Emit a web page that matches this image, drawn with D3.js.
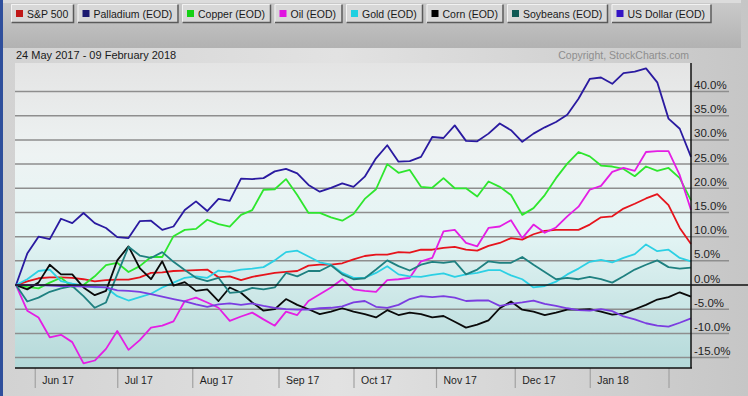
<!DOCTYPE html>
<html>
<head>
<meta charset="utf-8">
<script src="https://cdn.jsdelivr.net/npm/d3@7"></script>
<style>
  html, body { margin: 0; padding: 0; background: #d4d4d4; }
  svg { display: block; font-family: "Liberation Sans", Arial, sans-serif; }
</style>
</head>
<body>
<div id="chart"></div>
<script>
// trading sessions since 24 May 2017 (every 3rd session)
var days = [0,3,6,9,12,15,18,21,24,27,30,33,36,39,42,45,48,51,54,57,60,
            63,66,69,72,75,78,81,84,87,90,93,96,99,102,105,108,111,114,117,120,
            123,126,129,132,135,138,141,144,147,150,153,156,159,162,165,168,171,174,177,180];

// percent change from 24 May 2017
var spx = [0,0.75,1.4,1.6,1.6,1.5,1.2,0.75,1.0,1.1,1.1,1.6,2.5,2.6,2.9,3.0,3.1,3.2,1.6,1.8,1.0,
           1.7,2.1,2.5,2.7,2.9,4.0,4.2,4.2,4.5,5.3,6.0,6.3,6.3,6.8,6.7,7.3,7.3,7.7,7.9,7.3,
           7.1,8.1,8.7,9.7,9.4,10.5,11.2,11.4,11.4,11.4,12.5,14.0,14.2,15.8,16.8,17.9,18.8,16.5,11.8,8.5];
var palladium = [0,6.5,10.0,9.5,13.7,12.8,14.9,12.8,11.8,9.9,9.7,13.2,13.3,11.4,12.1,15.5,17.3,15.3,17.8,17.4,22.0,
                 21.9,22.1,23.5,24.0,23.1,20.7,19.3,20.1,21.0,20.3,22.4,26.2,28.9,25.5,25.6,26.5,30.6,30.4,33.0,29.8,
                 29.7,31.3,33.4,32.0,29.6,31.3,32.6,33.7,35.2,38.5,42.6,42.9,41.6,43.8,44.1,44.8,41.9,34.4,32.3,26.5];
var copper = [0,-0.4,-0.7,0.5,1.5,-0.4,0,1.8,4.1,4.6,2.7,3.9,5.8,5.8,10.1,11.4,11.6,13.5,12.6,12.1,14.5,
              15.5,19.7,19.8,21.9,18.6,14.9,14.9,14.0,13.3,14.7,17.8,19.8,25.0,23.2,23.8,20.3,20.1,22.1,20.0,20.0,
              18.3,21.4,20.3,18.6,14.5,15.9,18.6,22.1,25.1,27.5,26.6,24.7,24.5,24.0,22.5,24.5,23.6,24.2,22.1,17.5];
var oil = [0,-5.3,-6.7,-10.8,-10.3,-11.8,-16.2,-15.6,-13.2,-9.5,-13.4,-11.4,-8.8,-8.4,-7.5,-3.3,-2.6,-3.6,-4.7,-7.4,-6.5,
           -5.7,-7.1,-8.4,-5.5,-6.2,-3.3,-1.9,-0.5,1.2,-0.9,-1.2,-1.4,1.0,1.2,1.5,4.9,5.6,11.1,11.4,8.7,
           8.0,11.8,12.1,13.4,9.7,12.5,10.8,11.9,14.2,16.2,19.7,20.5,23.4,24.2,23.6,27.5,27.7,27.7,22.7,15.5];
var gold = [0,1.2,2.9,3.2,0.8,0.3,-0.1,-0.5,-0.5,-2.3,-3.2,-2.5,-1.8,-0.5,0.5,1.5,1.8,1.5,3.0,2.7,3.2,
            3.4,3.7,5.1,6.8,7.1,5.9,4.7,4.2,2.5,1.5,1.5,2.5,3.9,2.2,1.8,1.7,2.1,2.4,1.7,2.2,
            2.5,3.1,3.1,2.0,1.2,-0.5,-0.2,0.7,2.2,3.4,4.8,5.2,4.7,5.6,6.4,8.4,7.0,7.3,5.6,4.9];
var corn = [0,-0.9,0.5,4.2,2.2,2.2,-0.5,-2.1,-1.2,5.1,8.0,3.5,1.2,4.9,-0.1,0.6,-1.2,-0.9,-3.3,-0.5,-1.6,
            -3.6,-5.3,-5.0,-2.9,-4.1,-5.0,-6.0,-5.5,-4.8,-5.5,-6.0,-6.7,-5.2,-6.2,-5.7,-6.0,-6.7,-6.4,-7.6,-8.8,
            -8.2,-7.3,-4.8,-3.4,-5.1,-5.5,-6.2,-5.7,-5.1,-5.1,-5.0,-5.5,-6.1,-5.9,-5.0,-4.1,-3.0,-2.5,-1.5,-2.4];
var soybeans = [0,-3.4,-2.6,-1.4,-0.7,-0.2,-2.3,-4.7,-3.6,2.2,7.9,6.1,5.6,6.8,4.8,3.1,1.5,0.8,1.5,-1.6,-1.4,
                -0.6,-0.9,-0.5,2.5,1.8,2.9,2.9,4.1,2.2,1.2,1.4,3.2,5.1,3.9,3.0,4.2,4.8,4.6,4.9,2.2,
                3.2,4.9,4.6,4.6,5.8,4.2,2.7,1.2,1.5,1.2,1.7,1.2,0.5,1.8,3.2,4.2,5.1,3.7,3.4,3.6];
var usd = [0,0,0,-0.1,-0.2,-0.2,-0.3,-0.4,-0.5,-1.1,-1.2,-1.4,-1.9,-2.4,-2.9,-3.4,-4.0,-4.5,-4.0,-3.8,-4.1,
           -3.8,-4.3,-4.7,-5.0,-5.1,-5.1,-4.8,-4.7,-4.4,-3.6,-3.3,-4.5,-4.7,-4.1,-2.9,-2.3,-2.5,-2.3,-2.6,-3.3,
           -3.2,-3.2,-4.3,-3.9,-3.6,-3.2,-3.9,-4.3,-4.8,-5.2,-5.3,-5.0,-5.4,-6.5,-7.1,-7.9,-8.4,-8.6,-7.8,-6.9];

var names = ["S&P 500","Palladium (EOD)","Copper (EOD)","Oil (EOD)","Gold (EOD)","Corn (EOD)","Soybeans (EOD)","US Dollar (EOD)"];
var values = [spx, palladium, copper, oil, gold, corn, soybeans, usd];

var monthTicks = [5,27,47,70,90,112,133,153,174];
var monthLabels = ["Jun 17","Jul 17","Aug 17","Sep 17","Oct 17","Nov 17","Dec 17","Jan 18",""];
var pctTicks = [-15,-10,-5,0,5,10,15,20,25,30,35,40];

var lineColors = ["#e6141c","#2a1aa0","#2ee62e","#e41ee4","#2cd0e4","#0a0a0a","#1f8080","#7b3de0"];
var boxColors  = ["#c01818","#1c1a70","#14d014","#e014e0","#20d0e0","#000000","#105a55","#3414c4"];

function init(){
    var w = 748, h = 396;
    var left = 16, right = 691, top = 63, bottom = 368;

    var svg = d3.select("#chart").append("svg")
                .attr("width", w)
                .attr("height", h);

    var defs = svg.append("defs");
    var bg = defs.append("linearGradient").attr("id","bg").attr("x1",0).attr("x2",1).attr("y1",0).attr("y2",0);
    bg.append("stop").attr("offset","0").attr("stop-color","#d2d2d2");
    bg.append("stop").attr("offset","0.45").attr("stop-color","#e2e2e2");
    bg.append("stop").attr("offset","1").attr("stop-color","#c6c6c6");

    var head = defs.append("linearGradient").attr("id","head").attr("x1",0).attr("x2",0).attr("y1",0).attr("y2",1);
    head.append("stop").attr("offset","0").attr("stop-color","#cbcbcb");
    head.append("stop").attr("offset","1").attr("stop-color","#b2b2b2");

    var plotBg = defs.append("linearGradient").attr("id","plotbg").attr("x1",0).attr("x2",0).attr("y1",0).attr("y2",1);
    plotBg.append("stop").attr("offset","0").attr("stop-color","#e4e4e4");
    plotBg.append("stop").attr("offset","0.3").attr("stop-color","#eef3f3");
    plotBg.append("stop").attr("offset","0.55").attr("stop-color","#e4f5f5");
    plotBg.append("stop").attr("offset","1").attr("stop-color","#b4d9d9");

    // backgrounds
    svg.append("rect").attr("width", w).attr("height", h).attr("fill","url(#bg)");
    svg.append("rect").attr("x",0).attr("y",0).attr("width",741).attr("height",48).attr("fill","url(#head)");
    svg.append("rect").attr("x",0).attr("y",0).attr("width",741).attr("height",3).attr("fill","#dcdcdc");
    svg.append("rect").attr("x",left - 1).attr("y",top).attr("width",right - left + 1).attr("height",bottom - top)
       .attr("fill","url(#plotbg)");
    svg.append("rect").attr("x",0).attr("y",0).attr("width",3).attr("height",h).attr("fill","#2f4f9c");

    // scales
    var x = d3.scaleLinear().domain([0, 180]).range([left, right]);
    var y = d3.scaleLinear().domain([-17.15, 45.9]).range([bottom, top]);

    // gridlines, running under the labels
    svg.append("g").selectAll("line")
       .data(pctTicks.filter(function(d){ return d !== 0; }))
       .enter().append("line")
       .attr("x1", left - 1).attr("x2", 729)
       .attr("y1", function(d){ return y(d); })
       .attr("y2", function(d){ return y(d); })
       .attr("stroke","#8e8e8e").attr("stroke-width",1.5);

    // y axis labels
    var yAxis = d3.axisRight(y)
                  .tickValues(pctTicks)
                  .tickFormat(function(d){ return d.toFixed(1) + "%"; })
                  .tickSize(0);
    var yg = svg.append("g").attr("transform","translate(" + right + ",0)").call(yAxis);
    yg.select(".domain").remove();
    yg.selectAll("text")
      .attr("x", 3).attr("y", -3).attr("dy", null)
      .attr("fill","#1e1e1e")
      .style("font-size","11.5px");

    // x axis
    var xAxis = d3.axisBottom(x)
                  .tickValues(monthTicks)
                  .tickFormat(function(d, i){ return monthLabels[i]; })
                  .tickSizeInner(20).tickSizeOuter(0);
    var xg = svg.append("g").attr("transform","translate(0," + bottom + ")").call(xAxis);
    xg.select(".domain").remove();
    xg.selectAll("line").attr("stroke","#a2a2a2").attr("stroke-width",1.2);
    xg.selectAll("text")
      .attr("text-anchor","start")
      .attr("x", 7).attr("y", 16).attr("dy", null)
      .attr("fill","#1e1e1e")
      .style("font-size","10.5px");

    // series lines
    var line = d3.line()
                 .x(function(d, i){ return x(days[i]); })
                 .y(function(d){ return y(d); });

    svg.append("g").selectAll("path")
       .data(values)
       .enter().append("path")
       .attr("d", line)
       .attr("fill","none")
       .attr("stroke", function(d, i){ return lineColors[i]; })
       .attr("stroke-width", 1.8)
       .attr("stroke-linejoin","round");

    // zero line and frame
    svg.append("line").attr("x1", left - 1).attr("x2", w).attr("y1", y(0)).attr("y2", y(0))
       .attr("stroke","#111").attr("stroke-width",1.5);
    svg.append("line").attr("x1", left - 1).attr("x2", right + 1).attr("y1", bottom).attr("y2", bottom)
       .attr("stroke","#111").attr("stroke-width",1.5);
    svg.append("line").attr("x1", right).attr("x2", right).attr("y1", top).attr("y2", bottom)
       .attr("stroke","#111").attr("stroke-width",1.5);

    // legend buttons
    var bx = 11;
    names.forEach(function(name, i){
        var g = svg.append("g").attr("transform","translate(" + bx + ",4)");
        var rect = g.append("rect").attr("height",19).attr("fill","#d8d8d8");
        g.append("rect").attr("x",5).attr("y",6).attr("width",7).attr("height",7).attr("fill", boxColors[i]);
        var t = g.append("text").attr("x",16).attr("y",13.5)
                 .attr("fill","#1a1a1a").style("font-size","10.5px").text(name);
        var bw = Math.round(t.node().getComputedTextLength()) + 22;
        rect.attr("width", bw);
        g.append("path").attr("d","M0.5,18.5V0.5H" + (bw - 0.5))
         .attr("fill","none").attr("stroke","#f2f2f2");
        g.append("path").attr("d","M0.5,18.5H" + (bw - 0.5) + "V0.5")
         .attr("fill","none").attr("stroke","#5a5a5a").attr("stroke-width",1.5);
        bx += bw + 3.5;
    });

    // captions
    svg.append("text").attr("x",16).attr("y",59)
       .attr("fill","#1a1a1a").style("font-size","11px")
       .text("24 May 2017 - 09 February 2018");
    svg.append("text").attr("x",689).attr("y",59).attr("text-anchor","end")
       .attr("fill","#8e8e8e").style("font-size","10.5px")
       .text("Copyright, StockCharts.com");
}
window.onload = init;
</script>
</body>
</html>
